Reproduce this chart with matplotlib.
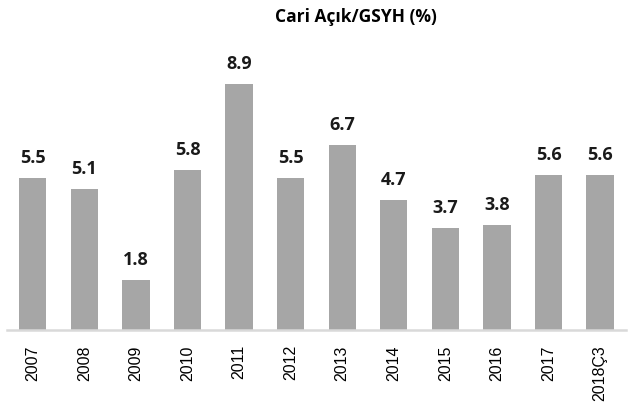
import numpy as np
import matplotlib.pyplot as plt

years = ['2007', '2008', '2009', '2010', '2011', '2012', '2013',
         '2014', '2015', '2016', '2017', '2018Ç3']
values = [5.5, 5.1, 1.8, 5.8, 8.9, 5.5, 6.7, 4.7, 3.7, 3.8, 5.6, 5.6]

fig = plt.figure(figsize=(6.31, 4.16), dpi=100)
ax = fig.add_axes([0.011, 0.207, 0.981, 0.697])

x = np.arange(len(years))
ax.bar(x, values, width=0.53, color='#a6a6a6')

for xi, v in zip(x, values):
    ax.text(xi, v + 0.4, f'{v:.1f}', ha='center', va='bottom',
            fontsize=13, fontweight='bold', family='Open Sans', color='#1a1a1a')

ax.set_xlim(-0.5, 11.5)
ax.set_ylim(0, 10.5)
ax.set_xticks(x)
ax.set_xticklabels(years, rotation=90, fontsize=11.5, family='Liberation Sans')
ax.tick_params(axis='x', length=0, pad=11)
ax.set_yticks([])

for side in ['top', 'right', 'left']:
    ax.spines[side].set_visible(False)
ax.spines['bottom'].set_color('#d9d9d9')
ax.spines['bottom'].set_linewidth(1.8)

fig.text(0.564, 0.958, 'Cari Açık/GSYH (%)', ha='center', va='center',
         fontsize=12.5, fontweight='bold', family='Open Sans')

fig.savefig('out.png', dpi=100)
